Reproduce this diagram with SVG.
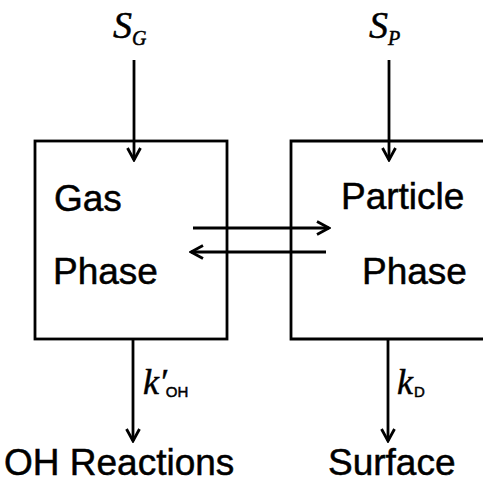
<svg xmlns="http://www.w3.org/2000/svg" width="483" height="482" viewBox="0 0 483 482">
<defs>
<marker id="ah" viewBox="0 0 16 16" refX="14" refY="8" markerWidth="16" markerHeight="16" markerUnits="userSpaceOnUse" orient="auto">
<path d="M2,1.5 L14,8 L2,14.5" fill="none" stroke="#000" stroke-width="2.8"/>
</marker>
</defs>
<style>
.box{fill:none;stroke:#000;stroke-width:2.8}
.ln{fill:none;stroke:#000;stroke-width:2.8;marker-end:url(#ah)}
.t{font-family:"Liberation Sans",Arial,sans-serif;font-size:37px;fill:#000;stroke:#000;stroke-width:0.5}
.m{font-family:"Liberation Serif","Times New Roman",serif;font-style:italic;fill:#000;stroke:#000;stroke-width:0.5}
.s{font-family:"Liberation Sans",Arial,sans-serif;fill:#000}
</style>
<rect width="483" height="482" fill="#fff"/>
<g id="gas">
<rect class="box" x="35" y="141" width="192" height="198"/>
<text class="t" x="54" y="211">Gas</text>
<text class="t" x="53" y="284">Phase</text>
</g>
<g id="particle">
<path class="box" d="M490,141 H291 V339 H490"/>
<text class="t" x="341" y="209">Particle</text>
<text class="t" x="362" y="284">Phase</text>
</g>
<g id="sg">
<text class="m" x="113" y="38" font-size="38">S<tspan font-size="20" dy="7">G</tspan></text>
</g>
<g id="sp">
<text class="m" x="369" y="38" font-size="38">S<tspan font-size="20" dy="7">P</tspan></text>
</g>
<g id="oh">
<text class="t" x="4" y="475" font-size="39">OH Reactions</text>
</g>
<g id="surface">
<text class="t" x="328" y="475" font-size="37">Surface</text>
</g>
<g id="connectors">
<line class="ln" x1="134" y1="60" x2="134" y2="160"/>
<line class="ln" x1="389" y1="60" x2="389" y2="160"/>
<line class="ln" x1="193" y1="228" x2="329" y2="228"/>
<line class="ln" x1="326" y1="252" x2="191" y2="252"/>
<line class="ln" x1="133" y1="339" x2="133" y2="441"/>
<line class="ln" x1="388" y1="339" x2="388" y2="441"/>
<text class="m" x="143" y="394" font-size="36">k′<tspan class="s" font-style="normal" font-size="15" dx="-1" dy="3">OH</tspan></text>
<text class="m" x="397" y="394" font-size="36">k<tspan class="s" font-style="normal" font-size="15" dx="1" dy="3">D</tspan></text>
</g>
</svg>
